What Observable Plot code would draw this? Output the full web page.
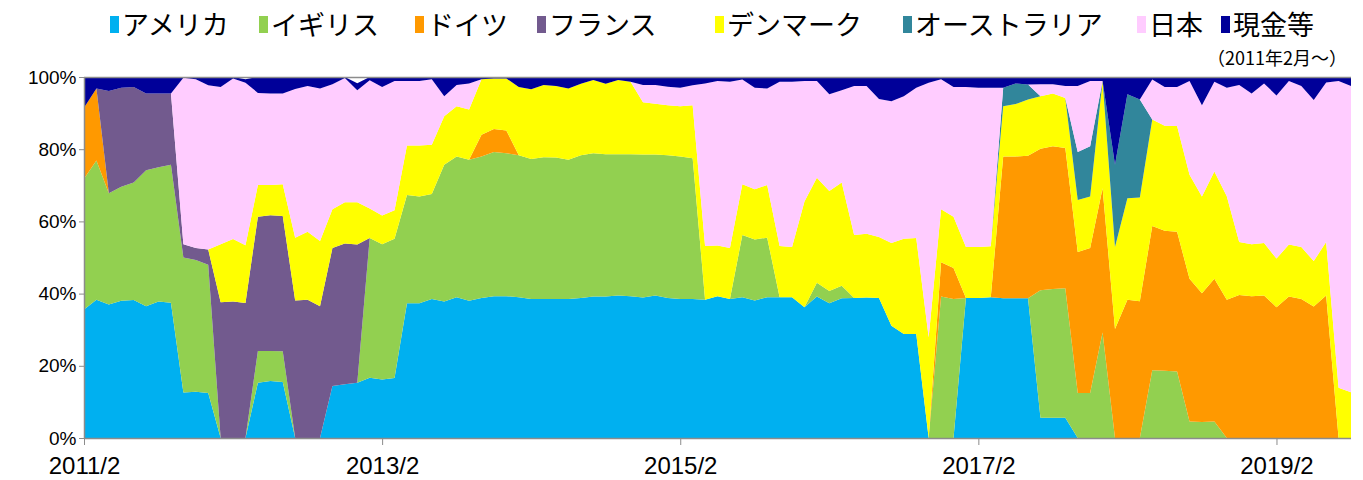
<!DOCTYPE html>
<html><head><meta charset="utf-8">
<script src="https://cdn.jsdelivr.net/npm/d3@7"></script>
<script src="https://cdn.jsdelivr.net/npm/@observablehq/plot@0.6"></script>
<style>
body{margin:0;background:#fff;}
#wrap{position:relative;width:1363px;height:480px;}
#legend{position:absolute;left:0;top:6px;width:1363px;height:40px;font-family:"Noto Sans CJK JP";font-size:27px;line-height:36px;white-space:nowrap;color:#000;}
.item{position:absolute;top:0;display:flex;align-items:center;}
.sw{width:9px;height:17px;margin-right:3px;}
#note{position:absolute;right:16px;top:45px;font-family:"Noto Sans CJK JP";font-size:18px;line-height:24px;color:#000;}
#chart{position:absolute;left:0;top:0;}
</style></head><body>
<div id="wrap"><div id="chart"></div><div id="legend"></div><div id="note">（2011年2月～）</div></div>
<script>
const series = ["アメリカ","イギリス","ドイツ","フランス","デンマーク","オーストラリア","日本","現金等"];
const colors = ["#00B0F0","#92D050","#FF9900","#725A8E","#FFFF00","#31869B","#FFCCFF","#000099"];

const us = [35.6,38.3,37.0,38.0,38.2,36.5,37.8,37.5,12.6,12.8,
 12.5,0,0,0,15.3,15.8,15.5,0,0,0,
 14.4,14.9,15.3,16.7,16.2,16.6,37.3,37.3,38.5,37.8,
 39.0,38.0,38.8,39.3,39.3,39.0,38.5,38.5,38.5,38.5,
 38.8,39.2,39.2,39.5,39.3,38.9,39.5,38.8,38.5,38.5,
 38.3,39.3,38.5,39.0,38.1,39.0,39.0,39.0,36.2,39.2,
 37.3,38.7,38.8,38.9,38.8,31.1,28.8,28.8,0,0,
 0,38.8,38.8,39.0,38.7,38.7,38.7,5.6,5.6,5.6,
 0,0,0,0,0,0,0,0,0,0,
 0,0,0,0,0,0,0,0,0,0,
 0,0,0];
const uk = [36.2,38.6,30.8,31.6,32.6,37.7,37.2,38.2,37.4,36.5,
 35.5,0,0,0,8.8,8.3,8.5,0,0,0,
 0,0,0,38.7,37.5,38.6,30.0,29.6,29.1,37.9,
 39.0,39.1,39.2,39.9,39.6,39.3,38.8,39.3,39.2,38.6,
 39.5,39.7,39.4,39.1,39.3,39.6,39.0,39.5,39.5,39.0,
 0,0,0,17.2,16.9,16.5,0,0,0,3.8,
 3.4,3.5,0,0,0,0,0,0,0,39.2,
 38.5,0,0,0,0,0,0,35.3,35.7,35.9,
 12.5,12.5,29.2,0,0,0,18.8,18.6,18.4,4.6,
 4.4,4.6,0,0,0,0,0,0,0,0,
 0,0,0];
const de = [19.7,19.9,0,0,0,0,0,0,0,0,
 0,0,0,0,0,0,0,0,0,0,
 0,0,0,0,0,0,0,0,0,0,
 0,0,6.0,6.4,6.3,0,0,0,0,0,
 0,0,0,0,0,0,0,0,0,0,
 0,0,0,0,0,0,0,0,0,0,
 0,0,0,0,0,0,0,0,0,9.5,
 8.6,0,0,0,39.3,39.3,39.5,39.2,39.5,38.8,
 39.0,40.1,40.0,30.2,38.3,37.9,39.9,38.8,38.7,39.5,
 35.7,39.5,38.3,39.6,39.3,39.5,36.2,39.2,38.5,36.4,
 39.5,0,0];
const fr = [0,0,28.3,27.4,26.4,21.2,20.4,19.7,3.7,3.3,
 4.2,37.6,37.8,37.4,37.2,37.6,37.5,38.1,38.3,36.5,
 38.2,39.0,38.3,0,0,0,0,0,0,0,
 0,0,0,0,0,0,0,0,0,0,
 0,0,0,0,0,0,0,0,0,0,
 0,0,0,0,0,0,0,0,0,0,
 0,0,0,0,0,0,0,0,0,0,
 0,0,0,0,0,0,0,0,0,0,
 0,0,0,0,0,0,0,0,0,0,
 0,0,0,0,0,0,0,0,0,0,
 0,0,0];
const dk = [0,0,0,0,0,0,0,0,0,0,
 0,16.1,17.3,16.0,8.8,8.4,8.8,17.4,18.8,18.1,
 10.8,11.4,11.7,8.2,7.9,7.9,13.7,14.1,13.6,13.4,
 13.9,13.9,15.4,14.0,14.4,18.9,19.3,20.0,19.8,19.7,
 19.8,20.3,19.5,20.6,20.1,14.5,14.1,13.9,13.9,14.7,
 14.9,14.0,14.1,14.1,13.9,14.6,14.2,13.9,29.3,29.1,
 27.7,28.6,17.4,17.7,16.9,22.9,26.4,26.6,27.9,14.7,
 14.2,14.1,14.1,14.1,13.9,14.5,15.6,14.6,14.6,13.9,
 14.4,14.3,29.7,22.7,28.1,28.7,29.5,29.1,29.3,28.8,
 26.8,29.7,28.7,14.7,14.4,14.5,13.5,14.4,14.4,12.6,
 14.8,13.9,12.7];
const au = [0,0,0,0,0,0,0,0,0,0,
 0,0,0,0,0,0,0,0,0,0,
 0,0,0,0,0,0,0,0,0,0,
 0,0,0,0,0,0,0,0,0,0,
 0,0,0,0,0,0,0,0,0,0,
 0,0,0,0,0,0,0,0,0,0,
 0,0,0,0,0,0,0,0,0,0,
 0,0,0,0,5.1,5.7,4.1,0,0,0,
 13.3,13.9,0,22.8,28.8,27.2,0,0,0,0,
 0,0,0,0,0,0,0,0,0,0,
 0,0,0];
const jp = [0,0,0,0,0,0,0,0,46.1,46.8,
 45.5,43.5,44.5,45.0,25.5,25.3,25.1,41.2,40.4,42.2,
 34.6,34.4,31.0,35.5,35.6,35.8,17.9,17.9,18.2,5.6,
 5.9,7.2,0,0,0,0,0,0,0,0,
 0,0,0,0,0,4.8,5.2,5.1,5.1,5.5,
 45.0,45.6,46.1,29.0,28.1,26.7,45.5,45.8,33.4,26.8,
 26.8,25.5,41.3,40.9,38.2,39.3,39.5,41.6,70.5,36.0,
 35.9,44.3,44.1,43.9,0,0,0,3.3,2.6,3.3,
 18.3,18.1,0,0,0,0,11.1,10.7,10.8,26.0,
 25.3,24.9,30.0,43.5,41.7,44.2,45.2,45.3,44.6,44.6,
 44.2,85.0,84.8];
const cash = [8.5,3.2,3.9,3.0,2.8,4.6,4.6,4.6,0.2,0.6,
 2.3,2.8,0.4,1.0,4.4,4.6,4.6,3.3,2.5,3.2,
 2.0,0.3,2.0,0.9,2.8,1.1,1.1,1.1,0.6,5.3,
 2.2,1.8,0.6,0.4,0.4,2.8,3.4,2.2,2.5,3.2,
 1.9,0.8,1.9,0.8,1.3,2.2,2.2,2.7,3.0,2.3,
 1.8,1.1,1.3,0.7,3.0,3.2,1.3,1.3,1.1,1.1,
 4.8,3.7,2.5,2.5,6.1,6.7,5.3,3.0,1.6,0.6,
 2.8,2.8,3.0,3.0,3.0,1.8,2.1,2.0,2.0,2.5,
 2.5,1.1,1.1,24.3,4.8,6.2,0.7,2.8,2.8,1.1,
 7.8,1.3,3.0,2.2,4.6,1.8,5.1,1.1,2.5,6.4,
 1.5,1.1,2.5];

const tickIndex = [0,24,48,72,96];
const tickLabels = ["2011/2","2013/2","2015/2","2017/2","2019/2"];
const yTicks = [0,20,40,60,80,100];

const seriesValues = [us, uk, de, fr, dk, au, jp, cash];
const rows = [];
seriesValues.forEach((arr, k) => arr.forEach((v, i) => rows.push({i, s: series[k], v})));
const lastIndex = us.length - 1;

const gray = "#8c8c8c";
const chart = Plot.plot({
  width: 1363, height: 480,
  marginLeft: 84, marginRight: 12, marginTop: 77, marginBottom: 42,
  style: {fontFamily: "'Liberation Sans Narrow','Liberation Sans',sans-serif", color: "#000", background: "#fff"},
  x: {domain: [0, lastIndex], label: null},
  y: {domain: [0, 100], label: null},
  color: {domain: series, range: colors},
  marks: [
    Plot.areaY(rows, {x: "i", y: "v", z: "s", fill: "s", order: series, curve: "linear"}),
    Plot.ruleY([100], {stroke: gray, strokeWidth: 1.5}),
    Plot.ruleY([0], {stroke: gray, strokeWidth: 1.5}),
    Plot.ruleX([0], {stroke: gray, strokeWidth: 1.5}),
    Plot.axisY(yTicks, {label: null, tickFormat: d => d + "%", tickSize: 5, tickPadding: 3, stroke: gray, fill: "#000", fontSize: 19}),
    Plot.axisX(tickIndex, {label: null, tickFormat: d => tickLabels[tickIndex.indexOf(d)], tickSize: 7, tickPadding: 11, stroke: gray, fill: "#000", fontSize: 24})
  ]
});
document.getElementById("chart").appendChild(chart);

const legendLeft = [110, 259, 415, 537, 715, 903, 1137, 1221];
const legend = document.getElementById("legend");
series.forEach((s, k) => {
  const it = document.createElement("div");
  it.className = "item";
  it.style.left = legendLeft[k] + "px";
  const sw = document.createElement("span");
  sw.className = "sw";
  sw.style.background = colors[k];
  const tx = document.createElement("span");
  tx.textContent = s;
  it.appendChild(sw); it.appendChild(tx);
  legend.appendChild(it);
});
</script>
</body></html>
